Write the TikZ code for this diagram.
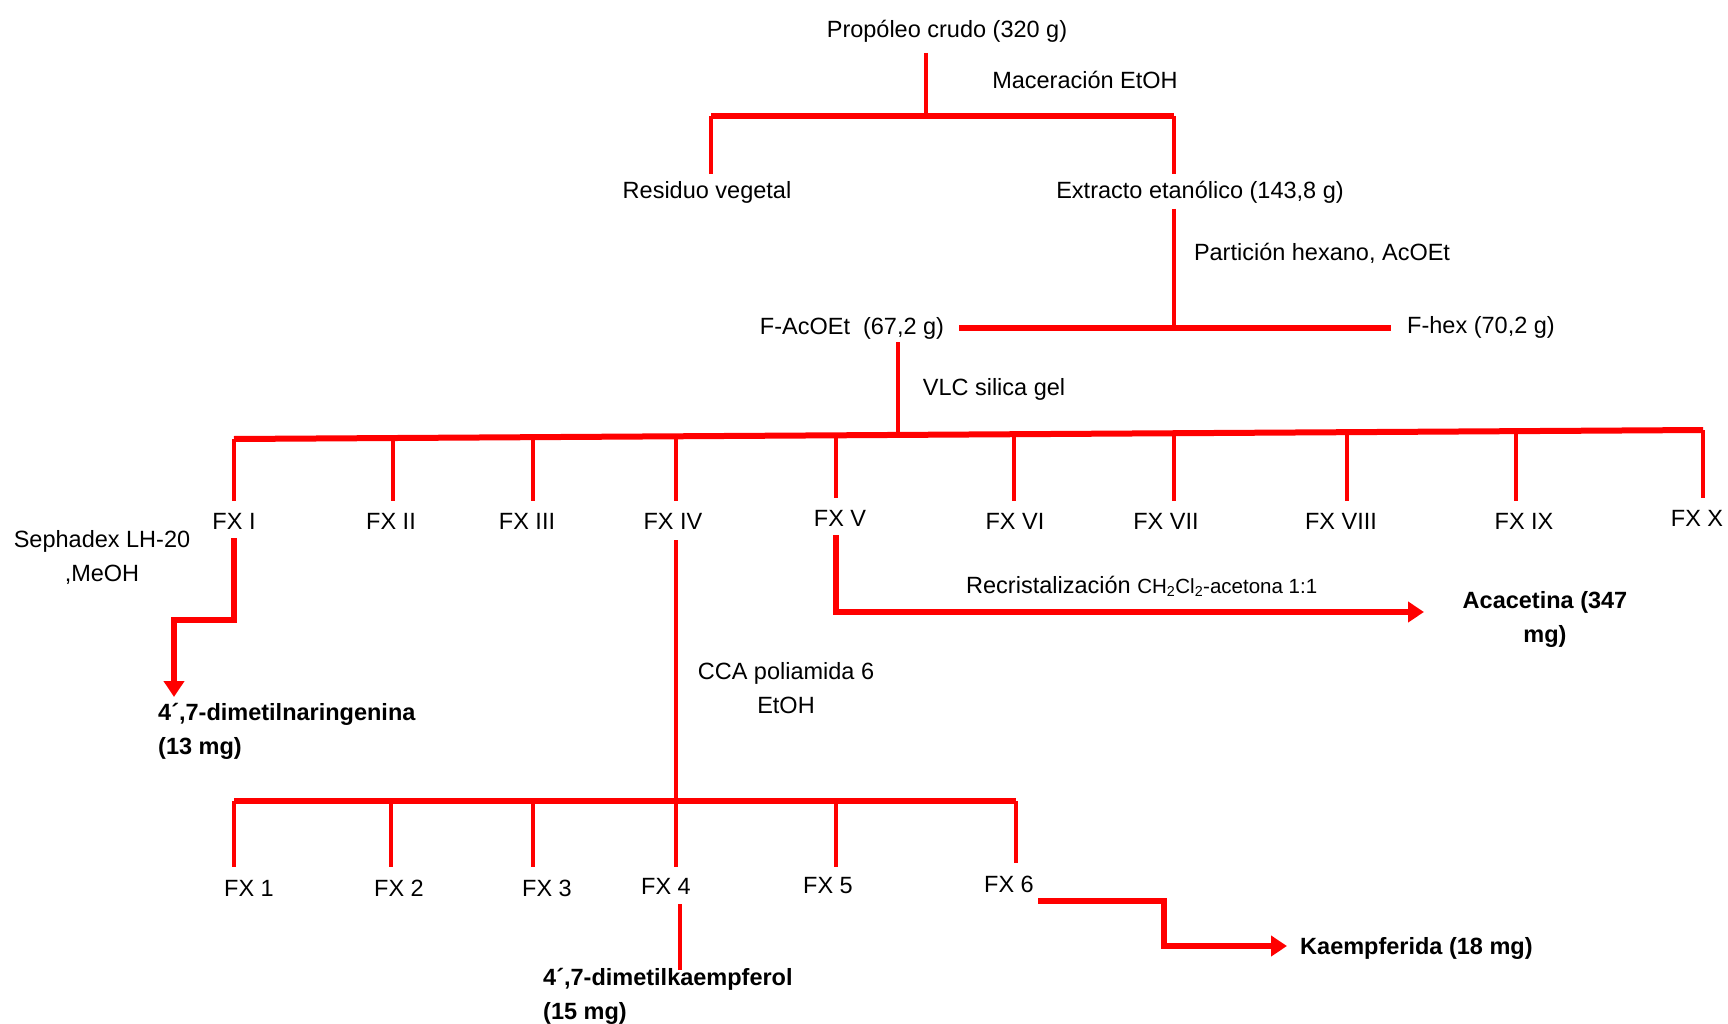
\documentclass[tikz,border=0pt]{standalone}
\usepackage{fontspec}
\setmainfont{Liberation Sans}
\usetikzlibrary{arrows.meta}
\begin{document}
\begin{tikzpicture}[x=1pt,y=-1pt,
  txt/.style={inner sep=0pt, font=\fontsize{23.5}{34}\selectfont, text=black, yshift=-2pt},
  btxt/.style={inner sep=0pt, font=\fontsize{23.5}{34}\selectfont\bfseries, text=black, yshift=-2pt},
  thinln/.style={draw=red, line width=4pt},
  barln/.style={draw=red, line width=6pt, line join=miter},
  arrln/.style={draw=red, line width=6pt, line join=miter, -{Triangle[width=20pt,length=16pt]}},
]
\fill[white] (0,0) rectangle (1728,1024);
\useasboundingbox (0,0) rectangle (1728,1024);

% ---- text nodes ----
\node[txt] (prop) at (947,29) {Propóleo crudo (320 g)};
\node[txt] (mac) at (1085,78) {Maceración EtOH};
\node[txt] (res) at (707,190) {Residuo vegetal};
\node[txt] (ext) at (1200,190) {Extracto etanólico (143,8 g)};
\node[txt] (part) at (1322,251) {Partición hexano, AcOEt};
\node[txt] (facoet) at (852,326) {F-AcOEt\ \ (67,2 g)};
\node[txt] (fhex) at (1481,325) {F-hex (70,2 g)};
\node[txt] (vlc) at (994,387) {VLC silica gel};

\node[txt] (fx1) at (234,519) {FX I};
\node[txt] (fx2) at (391,519) {FX II};
\node[txt] (fx3) at (527,519) {FX III};
\node[txt] (fx4) at (673,519) {FX IV};
\node[txt] (fx5) at (840,516) {FX V};
\node[txt] (fx6) at (1015,519) {FX VI};
\node[txt] (fx7) at (1166,519) {FX VII};
\node[txt] (fx8) at (1341,519) {FX VIII};
\node[txt] (fx9) at (1524,519) {FX IX};
\node[txt] (fx10) at (1697,516) {FX X};

\node[txt, align=center] (seph) at (102,555) {Sephadex LH-20\\,MeOH};
\node[btxt, align=left, anchor=west] (nar) at (158,729) {4´,7-dimetilnaringenina\\(13 mg)};
\node[txt, align=center] (cca) at (786,686) {CCA poliamida 6\\EtOH};
\node[txt, anchor=west] (recr) at (966,584) {Recristalización {\fontsize{20.5}{22}\selectfont CH\textsubscript{2}Cl\textsubscript{2}-acetona 1:1}};
\node[btxt, align=center] (acac) at (1545,617) {Acacetina (347\\mg)};

\node[txt] (s1) at (249,886) {FX 1};
\node[txt] (s2) at (399,886) {FX 2};
\node[txt] (s3) at (547,886) {FX 3};
\node[txt] (s4) at (666,884) {FX 4};
\node[txt] (s5) at (828,884) {FX 5};
\node[txt] (s6) at (1009,882) {FX 6};

\node[btxt, align=left, anchor=west] (kfl) at (543,994) {4´,7-dimetilkaempferol\\(15 mg)};
\node[btxt, anchor=west] (kfd) at (1300,946) {Kaempferida (18 mg)};

% ---- coordinates ----
\coordinate (p1) at (926,53);
\coordinate (p2) at (926,116);
\coordinate (tbL) at (711,116);
\coordinate (tbR) at (1174,116);
\coordinate (resT) at (711,174);
\coordinate (extT) at (1174,174);
\coordinate (extB) at (1174,209);
\coordinate (pj) at (1174,327);
\coordinate (pbL) at (959,328);
\coordinate (pbR) at (1391,328);
\coordinate (faB) at (898,342);
\coordinate (vj) at (898,433);
\coordinate (vbL) at (234,439);
\coordinate (vbR) at (1703,430);

% ---- top part ----
\draw[thinln] (p1) -- (p2);
\draw[barln] (tbL) -- (tbR);
\draw[thinln] (tbL) -- (resT);
\draw[thinln] (tbR) -- (extT);
\draw[thinln] (extB) -- (pj);
\draw[barln] (pbL) -- (pbR);
\draw[thinln] (faB) -- (vj);

% ---- VLC bar and drops ----
\draw[barln] (vbL) -- (vbR);
\foreach \x/\ye in {234/501,393/501,533/501,676/501,836/498,1014/501,1174/501,1347/501,1516/501,1703/498}{
  \pgfmathsetmacro{\yb}{439-9*(\x-234)/1469}
  \draw[thinln] (\x,\yb) -- (\x,\ye);
}

% ---- FX I branch ----
\coordinate (a1) at (234,538);
\coordinate (a2) at (234,620);
\coordinate (a3) at (174,620);
\coordinate (a4) at (174,697);
\draw[arrln] (a1) -- (a2) -- (a3) -- (a4);

% ---- FX V branch ----
\coordinate (b1) at (836,535);
\coordinate (b2) at (836,612);
\coordinate (b3) at (1424,612);
\draw[arrln] (b1) -- (b2) -- (b3);

% ---- FX IV branch ----
\coordinate (c1) at (676,540);
\coordinate (c2) at (676,801);
\draw[thinln] (c1) -- (c2);
\draw[barln] (234,801) -- (1016,801);
\foreach \x/\ye in {234/867,391/867,533/867,676/867,836/867,1016/863}{
  \draw[thinln] (\x,801) -- (\x,\ye);
}

% ---- FX 4 ----
\coordinate (d1) at (680,904);
\coordinate (d2) at (680,970);
\draw[thinln] (d1) -- (d2);

% ---- FX 6 ----
\coordinate (e1) at (1038,901);
\coordinate (e2) at (1164,901);
\coordinate (e3) at (1164,946);
\coordinate (e4) at (1287,946);
\draw[arrln] (e1) -- (e2) -- (e3) -- (e4);
\end{tikzpicture}
\end{document}
